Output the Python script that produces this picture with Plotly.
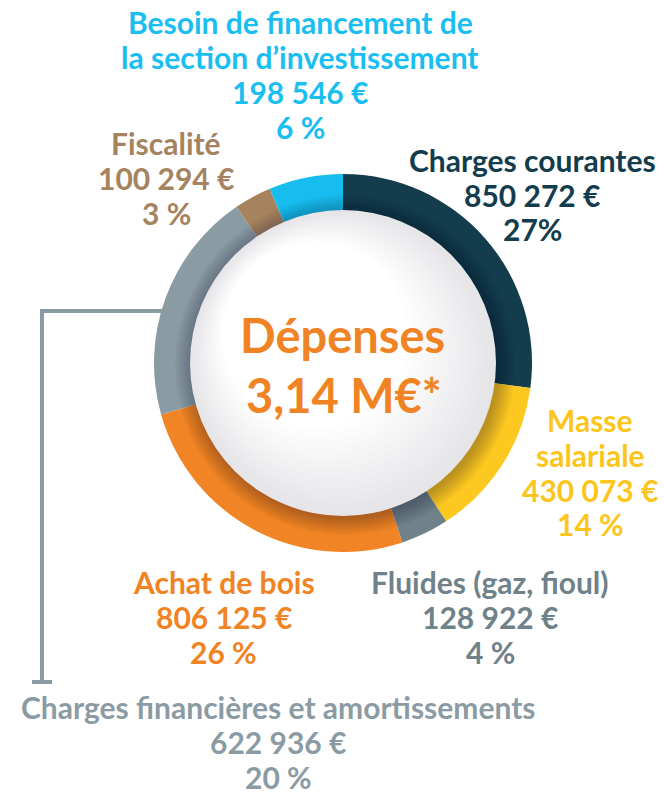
import plotly.graph_objects as go

W, H = 664, 794

categories = ["Charges courantes", "Masse salariale", "Fluides (gaz, fioul)", "Achat de bois",
              "Charges financières et amortissements", "Fiscalité",
              "Besoin de financement de la section d’investissement"]
values = [850272, 430073, 128922, 806125, 622936, 100294, 198546]
value_labels = ["850 272 €", "430 073 €", "128 922 €", "806 125 €", "622 936 €", "100 294 €", "198 546 €"]
pct_labels = ["27%", "14 %", "4 %", "26 %", "20 %", "3 %", "6 %"]
colors = ["#133c4d", "#fdc81f", "#6f8189", "#f18424", "#8b9ba4", "#a6835f", "#17bdee"]
text_colors = ["#133c4d", "#fcc51c", "#6f8189", "#f08323", "#8b9ba4", "#a6835f", "#1abef0"]
center_title = "Dépenses"
center_total = "3,14 M€*"

FONT = "Lato, Open Sans, sans-serif"

cx, cy, R = 343, 363, 189
hole = 0.80

def px(x):
    return x / W

def py(y):
    return 1 - y / H

fig = go.Figure()
fig.add_trace(go.Pie(
    labels=categories, values=values, sort=False, direction="clockwise", rotation=0,
    hole=hole, marker=dict(colors=colors, line=dict(width=0)),
    textinfo="none", hoverinfo="label+value+percent", showlegend=False,
    domain=dict(x=[px(cx - R), px(cx + R)], y=[py(cy + R), py(cy - R)]),
))

shapes = []
# soft shadow of the inner disc on the ring
for r in range(170, 153, -2):
    shapes.append(dict(type="circle", xref="paper", yref="paper",
                       x0=px(cx - r + 2), x1=px(cx + r + 2), y0=py(cy + r + 2), y1=py(cy - r + 2),
                       fillcolor="rgba(10,10,20,0.03)", line=dict(width=0), layer="above"))
# inner disc with a light gradient imitation
n = 14
for i in range(n):
    t = i / (n - 1)
    r = 153 - t * 60
    off = -t * 28
    g = int(230 + t * 25)
    b = int(233 + t * 22)
    c = f"rgb({g},{g},{b})"
    shapes.append(dict(type="circle", xref="paper", yref="paper",
                       x0=px(cx + off - r), x1=px(cx + off + r), y0=py(cy + off + r), y1=py(cy + off - r),
                       fillcolor=c, line=dict(width=0), layer="above"))

# bracket connector for Charges financières
bc = "#8b9ba4"
shapes.append(dict(type="path", xref="paper", yref="paper",
                   path=f"M {px(162)} {py(311)} L {px(42)} {py(311)} L {px(42)} {py(682)}",
                   line=dict(color=bc, width=4)))
shapes.append(dict(type="line", xref="paper", yref="paper",
                   x0=px(32), x1=px(52), y0=py(682), y1=py(682), line=dict(color=bc, width=4)))

annotations = []

def block(lines, xc, ys, color, size=30):
    for t, y in zip(lines, ys):
        annotations.append(dict(text=t, x=px(xc), y=py(y), xref="paper", yref="paper",
                                xanchor="center", yanchor="middle", showarrow=False,
                                font=dict(family=FONT, size=size, color=color, weight=700)))

block(["Besoin de financement de", "la section d’investissement", value_labels[6], pct_labels[6]],
      300, [22, 57, 92, 127], text_colors[6])
block([categories[5], value_labels[5], pct_labels[5]], 166, [143, 178, 213], text_colors[5])
block([categories[0], value_labels[0], pct_labels[0]], 532, [160, 195, 229], text_colors[0])
block(["Masse", "salariale", value_labels[1], pct_labels[1]], 590, [420, 455, 490, 524], text_colors[1])
block([categories[2], value_labels[2], pct_labels[2]], 490, [582, 617, 652], text_colors[2])
block([categories[3], value_labels[3], pct_labels[3]], 224, [582, 617, 652], text_colors[3])
block([categories[4], value_labels[4], pct_labels[4]], 278, [707, 742, 777], text_colors[4])
block([center_title], 342, [335], text_colors[3], size=47)
block([center_total], 344, [395], text_colors[3], size=47)

fig.update_layout(width=W, height=H, margin=dict(l=0, r=0, t=0, b=0),
                  paper_bgcolor="white", plot_bgcolor="white",
                  shapes=shapes, annotations=annotations)
fig.write_html("out.html", config={"displayModeBar": False},
               post_script="document.body.style.margin='0';document.body.style.overflow='hidden';")
